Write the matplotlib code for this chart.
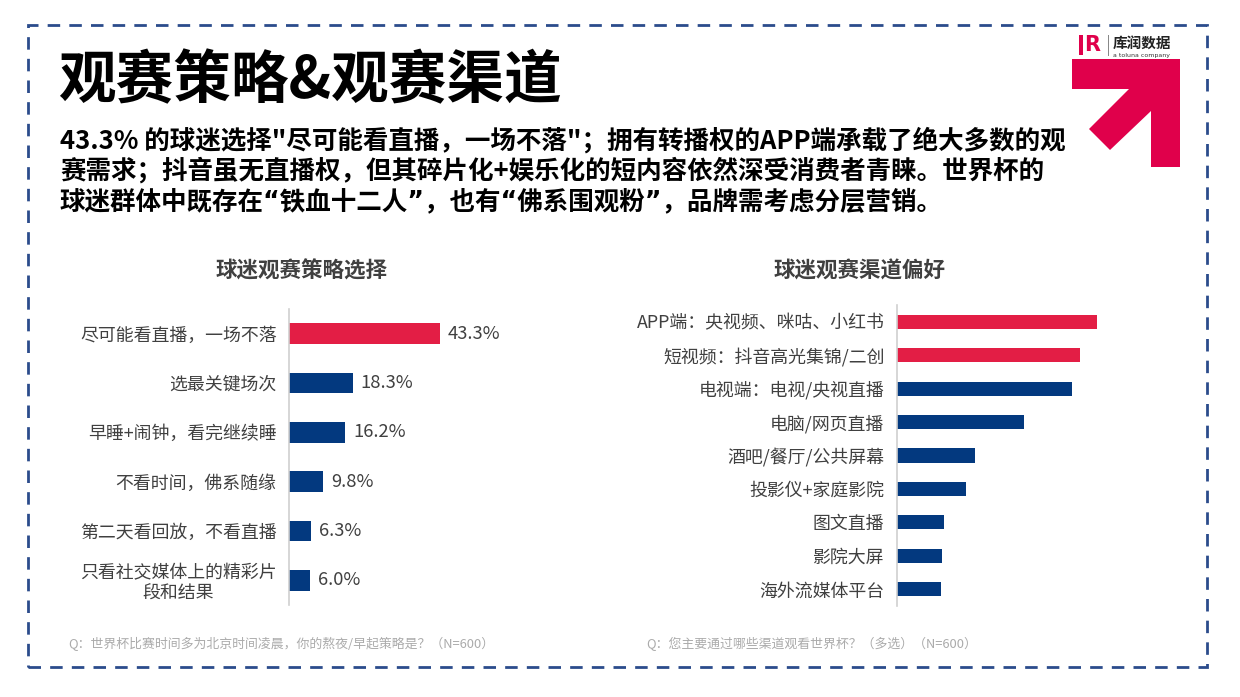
import matplotlib
matplotlib.use("Agg")
import matplotlib.pyplot as plt
from matplotlib.patches import Rectangle, Polygon

plt.rcParams['font.family'] = ['Noto Sans CJK SC', 'DejaVu Sans']

W, H = 1240, 697

# ---------------- data ----------------
title = "观赛策略&观赛渠道"
subtitle_lines = [
    "43.3% 的球迷选择\"尽可能看直播，一场不落\"；拥有转播权的APP端承载了绝大多数的观",
    "赛需求；抖音虽无直播权，但其碎片化+娱乐化的短内容依然深受消费者青睐。世界杯的",
    "球迷群体中既存在“铁血十二人”，也有“佛系围观粉”，品牌需考虑分层营销。",
]

left_title = "球迷观赛策略选择"
left_cats = ["尽可能看直播，一场不落", "选最关键场次", "早睡+闹钟，看完继续睡",
             "不看时间，佛系随缘", "第二天看回放，不看直播", "只看社交媒体上的精彩片\n段和结果"]
left_vals = [43.3, 18.3, 16.2, 9.8, 6.3, 6.0]
left_highlight = [True, False, False, False, False, False]
left_note = "Q：世界杯比赛时间多为北京时间凌晨，你的熬夜/早起策略是？（N=600）"

right_title = "球迷观赛渠道偏好"
right_cats = ["APP端：央视频、咪咕、小红书", "短视频：抖音高光集锦/二创", "电视端：电视/央视直播",
              "电脑/网页直播", "酒吧/餐厅/公共屏幕", "投影仪+家庭影院",
              "图文直播", "影院大屏", "海外流媒体平台"]
right_vals = [60.1, 55.0, 52.6, 38.1, 23.4, 20.7, 14.1, 13.5, 13.2]
right_highlight = [True, True, False, False, False, False, False, False, False]
right_note = "Q：您主要通过哪些渠道观看世界杯？（多选）（N=600）"

RED = "#E31E45"
BLUE = "#03397F"
LOGO_RED = "#E0004B"
TXT = "#404040"

fig = plt.figure(figsize=(W / 100, H / 100), dpi=100)
fig.patch.set_facecolor("white")


def fx(x):
    return x / W


def fy(y):
    return 1 - y / H


# dashed border
border = Rectangle((fx(28), fy(667)), fx(1207) - fx(28), fy(25) - fy(667),
                   transform=fig.transFigure, fill=False, edgecolor="#2B4C8C",
                   linewidth=2, linestyle=(0, (4.5, 3.3)))
fig.add_artist(border)

# logo arrow
arrow_pts = [(1072, 59), (1180, 59), (1180, 167), (1151, 167), (1151, 111),
             (1110, 150), (1089, 129), (1129, 89), (1072, 89)]
fig.add_artist(Polygon([(fx(x), fy(y)) for x, y in arrow_pts], closed=True,
                       transform=fig.transFigure, facecolor=LOGO_RED, edgecolor="none"))
# logo mark + text
fig.add_artist(Rectangle((fx(1079), fy(55)), fx(4), fy(35) - fy(55),
                         transform=fig.transFigure, facecolor=LOGO_RED, edgecolor="none"))
fig.text(fx(1084), fy(45), "R", color=LOGO_RED, fontsize=15, fontweight="bold",
         family=["DejaVu Sans"], va="center", ha="left")
fig.add_artist(Rectangle((fx(1108), fy(56)), fx(1), fy(35) - fy(56),
                         transform=fig.transFigure, facecolor="#888888", edgecolor="none"))
fig.text(fx(1113), fy(43), "库润数据", color="#222222", fontsize=10.5, fontweight="bold",
         va="center", ha="left")
fig.text(fx(1113), fy(55), "a toluna company", color="#333333", fontsize=4.5,
         family=["DejaVu Sans"], va="center", ha="left")

# title
fig.text(fx(58), fy(81), title, fontsize=41.5, fontweight="heavy", color="black",
         va="center", ha="left")

# subtitle
for i, line in enumerate(subtitle_lines):
    fam = ['DejaVu Sans', 'Noto Sans CJK SC'] if i == 2 else ['Noto Sans CJK SC', 'DejaVu Sans']
    fig.text(fx(60), fy(141 + i * 30.5), line, fontsize=18.4, fontweight="bold",
             color="black", va="center", ha="left", family=fam)

# ---------------- left chart ----------------
axL = fig.add_axes([fx(289), fy(605), fx(540) - fx(289), fy(309) - fy(605)])
yl = list(range(len(left_cats)))
colsL = [RED if h else BLUE for h in left_highlight]
axL.barh(yl, left_vals, height=0.42, color=colsL)
axL.set_ylim(len(left_cats) - 0.5, -0.5)
axL.set_xlim(0, 72)
axL.set_yticks(yl)
axL.set_yticklabels(left_cats, fontsize=12.9, color=TXT, multialignment="center")
axL.tick_params(axis="y", length=0, pad=9)
axL.set_xticks([])
for s in ["top", "right", "bottom"]:
    axL.spines[s].set_visible(False)
axL.spines["left"].set_color("#D0D0D0")
axL.spines["left"].set_linewidth(1.2)
for y, v in zip(yl, left_vals):
    axL.text(v + 2.3, y, f"{v:.1f}%", fontsize=13.2, color=TXT, va="center", ha="left")
axL.patch.set_alpha(0)

fig.text(fx(302), fy(271), left_title, fontsize=15.5, fontweight="bold", color=TXT,
         ha="center", va="center")
fig.text(fx(68), fy(644), left_note, fontsize=9.3, color="#ABABAB", ha="left", va="center")

# ---------------- right chart ----------------
axR = fig.add_axes([fx(897), fy(606), fx(1130) - fx(897), fy(305) - fy(606)])
yr = list(range(len(right_cats)))
colsR = [RED if h else BLUE for h in right_highlight]
axR.barh(yr, right_vals, height=0.42, color=colsR)
axR.set_ylim(len(right_cats) - 0.5, -0.5)
axR.set_xlim(0, 70)
axR.set_yticks(yr)
axR.set_yticklabels(right_cats, fontsize=12.9, color=TXT)
axR.tick_params(axis="y", length=0, pad=9)
axR.set_xticks([])
for s in ["top", "right", "bottom"]:
    axR.spines[s].set_visible(False)
axR.spines["left"].set_color("#D0D0D0")
axR.spines["left"].set_linewidth(1.2)
axR.patch.set_alpha(0)

fig.text(fx(860), fy(271), right_title, fontsize=15.5, fontweight="bold", color=TXT,
         ha="center", va="center")
fig.text(fx(646), fy(644), right_note, fontsize=9.3, color="#ABABAB", ha="left", va="center")

fig.savefig("out.png", dpi=100, facecolor="white")
